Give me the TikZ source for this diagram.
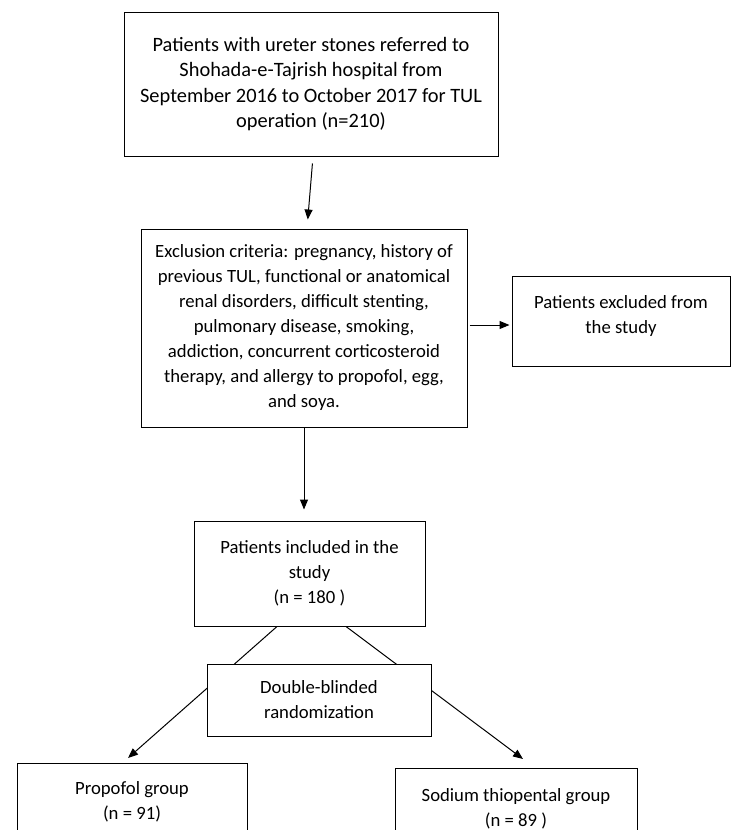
\documentclass[tikz,border=0pt]{standalone}
\usepackage{fontspec}
\setmainfont{Carlito}
\usetikzlibrary{arrows.meta,calc}
\begin{document}
\begin{tikzpicture}[x=1pt,y=-1pt,line width=1pt,>={Triangle[length=10pt,width=8pt]},
box/.style={draw,fill=white,align=center,inner sep=0pt,font=\fontsize{18.7}{25}\selectfont},
bigbox/.style={box,font=\fontsize{20.4}{25.5}\selectfont}]
\useasboundingbox (0,0) rectangle (731,830);
\node[bigbox,minimum width=374pt,minimum height=144pt](referred) at (311,84)
{Patients with ureter stones referred to\\Shohada-e-Tajrish hospital from\\September 2016 to October 2017 for TUL\\operation (n=210)};
\node[box,minimum width=326pt,minimum height=198pt](criteria) at (304,328)
{Exclusion criteria: pregnancy, history of\\previous TUL, functional or anatomical\\renal disorders, difficult stenting,\\pulmonary disease, smoking,\\addiction, concurrent corticosteroid\\therapy, and allergy to propofol, egg,\\and soya.};
\node[box,minimum width=218pt,minimum height=90pt,text depth=12pt](excluded) at (621,321)
{Patients excluded from\\the study};
\node[box,minimum width=231pt,minimum height=105pt](included) at (309.5,573.5)
{Patients included in the\\study\\(n = 180 )};
\node[box,minimum width=230pt,minimum height=77pt,anchor=north](propofol) at (132,763)
{Propofol group\\(n = 91)};
\node[box,minimum width=242pt,minimum height=80pt,anchor=north](sodium) at (516,768)
{Sodium thiopental group\\(n = 89 )};
\draw[->,shorten <=7pt,shorten >=9pt]([xshift=2pt]referred.south)--([xshift=3pt]criteria.north);
\draw[->,shorten <=2pt,shorten >=2pt]([yshift=3pt]criteria.east)--([yshift=3pt]criteria.east-|excluded.west);
\draw[->,shorten >=11pt](criteria.south)--(criteria.south|-included.north);
\draw[->]([xshift=-32.5pt]included.south)--($(propofol.north)+(-4,-5)$);
\draw[->]([xshift=36.5pt]included.south)--($(sodium.north)+(7,-9)$);
\node[box,minimum width=224pt,minimum height=72pt](randomized) at (319,700)
{Double-blinded\\randomization};
\end{tikzpicture}
\end{document}
